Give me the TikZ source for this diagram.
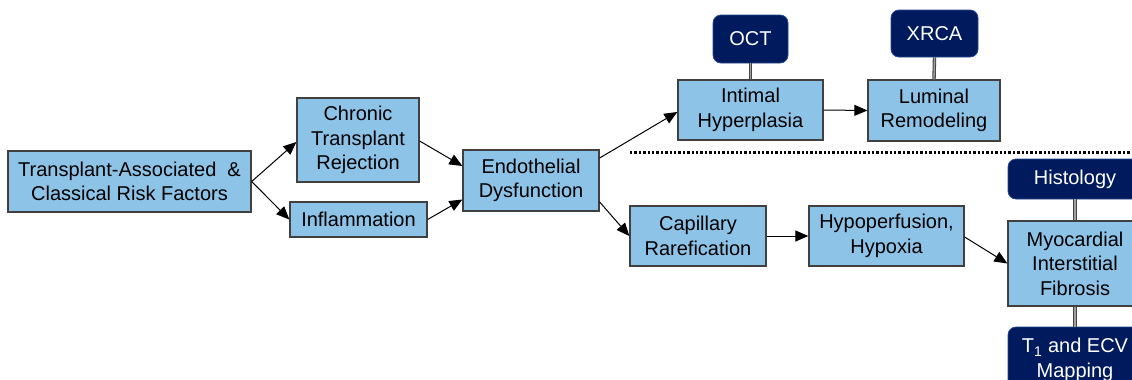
\documentclass[tikz,border=0pt]{standalone}
\usepackage{fontspec}
\setmainfont{Liberation Sans}
\usetikzlibrary{arrows.meta,calc}
\definecolor{lightbox}{RGB}{142,195,232}
\definecolor{boxedge}{RGB}{64,64,64}
\definecolor{navy}{RGB}{0,26,94}
\definecolor{navyedge}{RGB}{40,70,140}
\begin{document}
\begin{tikzpicture}[x=1pt,y=-1pt,
  font=\fontsize{20}{24.5}\selectfont,
  stepbox/.style={draw=boxedge,line width=1.3pt,fill=lightbox,align=center,inner sep=0pt,text=black},
  probe/.style={draw=navyedge,line width=0.8pt,fill=navy,rounded corners=8pt,align=center,inner sep=0pt,text=white},
  arr/.style={draw=black,line width=1pt,-{Triangle[length=13pt,width=11pt]}},
  link/.style={draw=gray!55!black,line width=3.4pt},
  linkin/.style={draw=gray!75,line width=1.3pt}]
\useasboundingbox (0,0) rectangle (1132,380);
\clip (0,0) rectangle (1132,380);
% nodes
\node[stepbox,minimum width=243pt,minimum height=61pt] (trans) at (129.5,181.5) {Transplant-Associated\ \ \&\\Classical Risk Factors};
\node[stepbox,minimum width=122pt,minimum height=84pt] (chronic) at (358,140) {Chronic\\Transplant\\Rejection};
\node[stepbox,minimum width=137pt,minimum height=35pt] (inflam) at (358.5,219.5) {Inflammation};
\node[stepbox,minimum width=136pt,minimum height=61pt] (endo) at (531,180.5) {Endothelial\\Dysfunction};
\node[stepbox,minimum width=145pt,minimum height=60pt] (intimal) at (750.5,110) {Intimal\\Hyperplasia};
\node[stepbox,minimum width=132pt,minimum height=61pt] (luminal) at (934,110.5) {Luminal\\Remodeling};
\node[stepbox,minimum width=136pt,minimum height=60pt] (capillary) at (698,236) {Capillary\\Rarefication};
\node[stepbox,minimum width=155pt,minimum height=60pt] (hypo) at (886.5,236) {Hypoperfusion,\\Hypoxia};
\node[stepbox,minimum width=134pt,minimum height=85pt] (myo) at (1075,263.5) {Myocardial\\Interstitial\\Fibrosis};
\node[probe,minimum width=75pt,minimum height=48pt] (oct) at (750.5,39) {OCT};
\node[probe,minimum width=87pt,minimum height=47pt] (xrca) at (934.5,33.5) {XRCA};
\node[probe,minimum width=134pt,minimum height=40pt] (histo) at (1075,179) {Histology};
\node[probe,minimum width=134pt,minimum height=66pt] (t1) at (1075,360) {T\textsubscript{1} and ECV\\Mapping};
% links to probes
\foreach \a/\b in {oct/intimal,xrca/luminal,histo/myo,myo/t1}{
  \draw[link] (\a.south) -- (\b.north);
  \draw[linkin] (\a.south) -- (\b.north);
}
% arrows
\draw[arr] (trans.east) -- ($(chronic.west)+(0,2)$);
\draw[arr] (trans.east) -- (inflam.west);
\draw[arr] ($(chronic.east)+(0,1)$) -- ($(endo.west)+(0,-14.5)$);
\draw[arr] (inflam.east) -- ($(endo.west)+(0,19)$);
\draw[arr] ($(endo.east)+(0,-22.5)$) -- ($(intimal.west)+(0,2)$);
\draw[arr] ($(endo.east)+(0,21.5)$) -- (capillary.west);
\draw[arr] (intimal.east) -- (luminal.west);
\draw[arr] (capillary.east) -- (hypo.west);
\draw[arr] ($(hypo.east)+(0,1)$) -- (myo.west);
% divider
\coordinate (divL) at (630,152);
\coordinate (divR) at (1134,152);
\draw[line width=3pt,dash pattern=on 2.4pt off 2pt] (divL) -- (divR);
\end{tikzpicture}
\end{document}
